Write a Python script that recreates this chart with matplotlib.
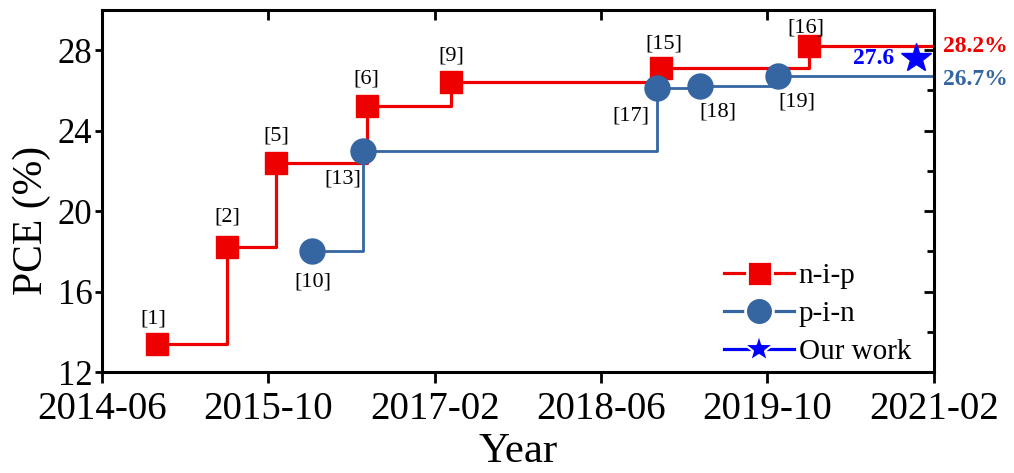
#!/usr/bin/env python3
"""PCE record evolution of n-i-p and p-i-n devices, with our work marked."""

from datetime import datetime

import matplotlib
matplotlib.use("Agg")
import matplotlib.dates as mdates
import matplotlib.pyplot as plt
from matplotlib.lines import Line2D
from matplotlib.ticker import MultipleLocator, NullFormatter

# n-i-p records
nip_dates = ["2014-11-10", "2015-06-01", "2015-10-25", "2016-07-15",
             "2017-03-20", "2018-11-25", "2020-02-01"]
nip_pce = [13.4, 18.2, 22.4, 25.2, 26.4, 27.1, 28.2]
nip_refs = ["[1]", "[2]", "[5]", "[6]", "[9]", "[15]", "[16]"]

# p-i-n records
pin_dates = ["2016-02-05", "2016-07-05", "2018-11-12", "2019-03-20", "2019-11-01"]
pin_pce = [18.0, 23.0, 26.1, 26.2, 26.7]
pin_refs = ["[10]", "[13]", "[17]", "[18]", "[19]"]

# this work
our_date = "2020-12-10"
our_pce = 27.6

x_start, x_end = "2014-06-01", "2021-02-01"
tick_dates = ["2014-06-01", "2015-10-01", "2017-02-01",
              "2018-06-01", "2019-10-01", "2021-02-01"]

RED = "#ee0000"
STEEL = "#3566a2"
BLUE = "#0000ff"


def to_dt(s):
    return datetime.strptime(s, "%Y-%m-%d")


plt.rcParams["font.family"] = ["Liberation Serif", "DejaVu Serif"]

fig = plt.figure(figsize=(10.14, 4.73), dpi=100)
ax = fig.add_axes([0.1006, 0.2135, 0.8205, 0.7655])

xmax = to_dt(x_end)
nx = [to_dt(d) for d in nip_dates]
px = [to_dt(d) for d in pin_dates]

ax.step(nx + [xmax], nip_pce + [nip_pce[-1]], where="post",
        color=RED, lw=2.3, zorder=2)
ax.step(px + [xmax], pin_pce + [pin_pce[-1]], where="post",
        color=STEEL, lw=2.0, zorder=2)
ax.plot(nx, nip_pce, ls="none", marker="s", ms=16, color=RED, zorder=3)
ax.plot(px, pin_pce, ls="none", marker="o", ms=18, color=STEEL, zorder=4)
ax.plot([to_dt(our_date)], [our_pce], ls="none", marker="*", ms=22,
        color=BLUE, zorder=5)

# reference labels (pixel offsets from each marker)
nip_off = [(-4, 25), (1, 30), (0, 27), (0, 27), (0, 26), (3, 24), (-3, 18)]
pin_off = [(1, -31), (-20, -28), (-26, -28), (17, -26), (19, -26)]
for x, y, r, o in zip(nx, nip_pce, nip_refs, nip_off):
    ax.annotate(r, (x, y), xytext=o, textcoords="offset pixels",
                ha="center", va="center", fontsize=16)
for x, y, r, o in zip(px, pin_pce, pin_refs, pin_off):
    ax.annotate(r, (x, y), xytext=o, textcoords="offset pixels",
                ha="center", va="center", fontsize=16)
ax.annotate(f"{our_pce}", (to_dt(our_date), our_pce), xytext=(-42, 0),
            textcoords="offset pixels", ha="center", va="center",
            fontsize=17, fontweight="bold", color=BLUE)

trans = ax.get_yaxis_transform()
ax.text(1.011, nip_pce[-1], f"{nip_pce[-1]}%", transform=trans,
        ha="left", va="center", fontsize=17, fontweight="bold", color=RED)
ax.text(1.011, pin_pce[-1] - 0.15, f"{pin_pce[-1]}%", transform=trans,
        ha="left", va="center", fontsize=17, fontweight="bold", color=STEEL)

ax.set_xlim(to_dt(x_start), xmax)
ax.set_ylim(12, 30)
ax.set_xticks([to_dt(d) for d in tick_dates])
ax.xaxis.set_major_formatter(mdates.DateFormatter("%Y-%m"))
ax.set_yticks([12, 16, 20, 24, 28])
ax.tick_params(axis="x", direction="out", length=8, width=2,
               labelsize=28, pad=6)
ax.tick_params(axis="y", direction="out", length=5, width=2,
               labelsize=25, pad=2)
ax.set_xlabel("Year", fontsize=31, labelpad=3)
ax.set_ylabel("PCE (%)", fontsize=30)
ax.yaxis.set_label_coords(-0.061, 0.42)
for s in ax.spines.values():
    s.set_linewidth(2.2)

# mirrored inward ticks on top and right
top = ax.secondary_xaxis("top")
top.set_xticks([to_dt(d) for d in tick_dates])
top.xaxis.set_major_formatter(NullFormatter())
top.tick_params(direction="in", length=7, width=2)
right = ax.secondary_yaxis("right")
right.set_yticks([12, 16, 20, 24, 28])
right.yaxis.set_minor_locator(MultipleLocator(2))
right.yaxis.set_major_formatter(NullFormatter())
right.tick_params(which="major", direction="in", length=7, width=2)
right.tick_params(which="minor", direction="in", length=5, width=2)

handles = [
    Line2D([], [], color=RED, lw=2.3, marker="s", ms=18,
           markeredgecolor="white", markeredgewidth=2),
    Line2D([], [], color=STEEL, lw=2.3, marker="o", ms=20,
           markeredgecolor="white", markeredgewidth=2),
    Line2D([], [], color=BLUE, lw=2.3, marker="*", ms=22,
           markeredgecolor="white", markeredgewidth=1.5),
]
ax.legend(handles, ["n-i-p", "p-i-n", "Our work"], loc="lower right",
          frameon=False, fontsize=21, numpoints=1, handlelength=2.4,
          handletextpad=0.15, labelspacing=0.4, borderaxespad=0.1,
          bbox_to_anchor=(0.99, -0.022))

fig.savefig("out.png", dpi=100)
